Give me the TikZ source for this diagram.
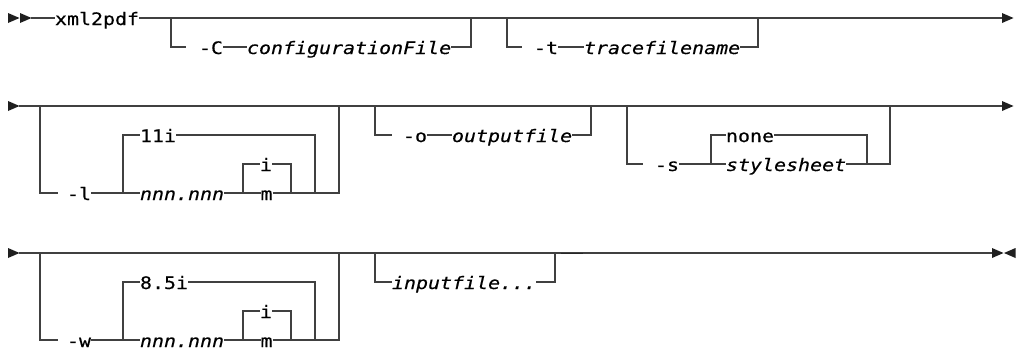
\documentclass[tikz,border=0pt]{standalone}
\usepackage{fontspec}
\newfontfamily\rrfont[FakeStretch=1.16,FakeBold=0.4,ItalicFont={DejaVu Sans Mono Oblique}]{DejaVu Sans Mono}
\begin{document}
\begin{tikzpicture}[x=1pt,y=-1pt,
  rail/.style={draw=black!75,line width=1.25pt},
  txt/.style={anchor=base west,inner sep=0pt,outer sep=0pt,font=\rrfont\fontsize{17.2}{20}\selectfont,text=black},
  itx/.style={txt,font=\rrfont\itshape\fontsize{17.2}{20}\selectfont},
  tip/.style={fill=black!88,draw=none}]
\useasboundingbox (0,0) rectangle (1016,349);
% ---------------- Row 1 ----------------
\fill[tip] (8,13) -- (19.5,18) -- (8,23) -- cycle;
\fill[tip] (20,13) -- (31.5,18) -- (20,23) -- cycle;
\coordinate (st1) at (31,18);
\coordinate (e1) at (1002,18);
\node[txt] (xml) at (55,25) {xml2pdf};
\draw[rail] (st1) -- (st1 -| xml.west);
\draw[rail] (xml.east |- st1) -- (e1);
\fill[tip] (1002,13) -- (1013.5,18) -- (1002,23) -- cycle;
% -C branch
\coordinate (c0) at (171,18); \coordinate (c1) at (171,47); \coordinate (c2) at (186,47);
\coordinate (c3) at (471,47); \coordinate (c4) at (471,18);
\node[txt] (optC) at (199,54) {-C};
\node[itx] (cfg) at (247,54) {configurationFile};
\draw[rail] (c0) -- (c1) -- (c2);
\draw[rail] (optC.east |- c1) -- (cfg.west |- c1);
\draw[rail] (cfg.east |- c1) -- (c3) -- (c4);
% -t branch
\coordinate (t0) at (507,18); \coordinate (t1) at (507,47); \coordinate (t2) at (522,47);
\coordinate (t3) at (758,47); \coordinate (t4) at (758,18);
\node[txt] (optT) at (534,54) {-t};
\node[itx] (trc) at (584,54) {tracefilename};
\draw[rail] (t0) -- (t1) -- (t2);
\draw[rail] (optT.east |- t1) -- (trc.west |- t1);
\draw[rail] (trc.east |- t1) -- (t3) -- (t4);
% ---------------- Row 2 ----------------
\fill[tip] (8,101) -- (19.5,106) -- (8,111) -- cycle;
\coordinate (st2) at (19,106);
\coordinate (e2) at (1002,106);
\draw[rail] (st2) -- (e2);
\fill[tip] (1002,101) -- (1013.5,106) -- (1002,111) -- cycle;
% -l branch
\coordinate (l0) at (40,106); \coordinate (l1) at (40,193); \coordinate (l2) at (58,193);
\coordinate (l3) at (123,193); \coordinate (l4) at (123,135);
\coordinate (l5) at (315,135); \coordinate (l6) at (315,193);
\coordinate (l7) at (243,193); \coordinate (l8) at (243,164);
\coordinate (l9) at (291,164); \coordinate (l10) at (291,193);
\coordinate (l11) at (339,193); \coordinate (l12) at (339,106);
\node[txt] (optL) at (67,200) {-l};
\node[txt] (lit11) at (140,142) {11i};
\node[itx] (nnnA) at (140,200) {nnn.nnn};
\node[txt] (iA) at (260,171) {i};
\node[txt] (mA) at (260.5,200) {m};
\draw[rail] (l0) -- (l1) -- (l2);
\draw[rail] (optL.east |- l1) -- (nnnA.west |- l1);
\draw[rail] (l3) -- (l4) -- (lit11.west |- l4);
\draw[rail] (lit11.east |- l4) -- (l5) -- (l6);
\draw[rail] (nnnA.east |- l3) -- (mA.west |- l3);
\draw[rail] (l7) -- (l8) -- (iA.west |- l8);
\draw[rail] (iA.east |- l8) -- (l9) -- (l10);
\draw[rail] (mA.east |- l7) -- (l11) -- (l12);
% -o branch
\coordinate (o0) at (375,106); \coordinate (o1) at (375,135); \coordinate (o2) at (392,135);
\coordinate (o3) at (591,135); \coordinate (o4) at (591,106);
\node[txt] (optO) at (403,142) {-o};
\node[itx] (outf) at (452,142) {outputfile};
\draw[rail] (o0) -- (o1) -- (o2);
\draw[rail] (optO.east |- o1) -- (outf.west |- o1);
\draw[rail] (outf.east |- o1) -- (o3) -- (o4);
% -s branch
\coordinate (sb0) at (627,106); \coordinate (sb1) at (627,164); \coordinate (sb2) at (643,164);
\coordinate (sb3) at (711,164); \coordinate (sb4) at (711,135);
\coordinate (sb5) at (867,135); \coordinate (sb6) at (867,164);
\coordinate (sb7) at (890,164); \coordinate (sb8) at (890,106);
\node[txt] (optS) at (655,171) {-s};
\node[txt] (none) at (726,142) {none};
\node[itx] (sty) at (726,171) {stylesheet};
\draw[rail] (sb0) -- (sb1) -- (sb2);
\draw[rail] (optS.east |- sb1) -- (sty.west |- sb1);
\draw[rail] (sb3) -- (sb4) -- (none.west |- sb4);
\draw[rail] (none.east |- sb4) -- (sb5) -- (sb6);
\draw[rail] (sty.east |- sb3) -- (sb7) -- (sb8);
% ---------------- Row 3 ----------------
\fill[tip] (8,248) -- (19.5,253) -- (8,258) -- cycle;
\coordinate (st3) at (19,253);
\coordinate (e3) at (992,253);
\draw[rail] (st3) -- (e3);
\fill[tip] (992,248) -- (1003.5,253) -- (992,258) -- cycle;
\fill[tip] (1015.5,248) -- (1004,253) -- (1015.5,258) -- cycle;
% -w branch
\coordinate (w0) at (40,253); \coordinate (w1) at (40,340); \coordinate (w2) at (58,340);
\coordinate (w3) at (123,340); \coordinate (w4) at (123,282);
\coordinate (w5) at (315,282); \coordinate (w6) at (315,340);
\coordinate (w7) at (243,340); \coordinate (w8) at (243,311);
\coordinate (w9) at (291,311); \coordinate (w10) at (291,340);
\coordinate (w11) at (339,340); \coordinate (w12) at (339,253);
\node[txt] (optW) at (67,347) {-w};
\node[txt] (lit85) at (140,289) {8.5i};
\node[itx] (nnnB) at (140,347) {nnn.nnn};
\node[txt] (iB) at (260,318) {i};
\node[txt] (mB) at (260.5,347) {m};
\draw[rail] (w0) -- (w1) -- (w2);
\draw[rail] (optW.east |- w1) -- (nnnB.west |- w1);
\draw[rail] (w3) -- (w4) -- (lit85.west |- w4);
\draw[rail] (lit85.east |- w4) -- (w5) -- (w6);
\draw[rail] (nnnB.east |- w3) -- (mB.west |- w3);
\draw[rail] (w7) -- (w8) -- (iB.west |- w8);
\draw[rail] (iB.east |- w8) -- (w9) -- (w10);
\draw[rail] (mB.east |- w7) -- (w11) -- (w12);
% inputfile branch
\coordinate (f0) at (375,253); \coordinate (f1) at (375,282);
\coordinate (f2) at (555,282); \coordinate (f3) at (555,253);
\node[itx] (inp) at (392,289) {inputfile...};
\draw[rail] (f0) -- (f1) -- (inp.west |- f1);
\draw[rail] (inp.east |- f1) -- (f2) -- (f3);
\coordinate (g0) at (561,253.6); \coordinate (g1) at (583,253.6);
\draw[draw=black!85,line width=1.5pt] (g0) -- (g1);
\end{tikzpicture}
\end{document}
